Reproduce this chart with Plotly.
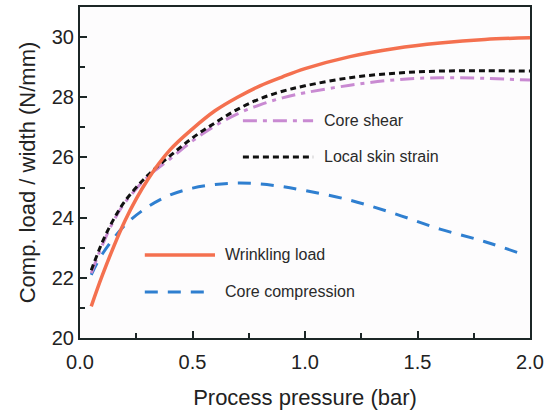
import plotly.graph_objects as go

# ---- data ----
x_wrinkling = [0.05, 0.1, 0.2, 0.3, 0.4, 0.5, 0.6, 0.7, 0.8, 0.9, 1.0, 1.2, 1.4, 1.6, 1.8, 2.0]
y_wrinkling = [21.05, 22.1, 23.9, 25.25, 26.25, 26.95, 27.55, 28.0, 28.38, 28.68, 28.95, 29.35, 29.62, 29.8, 29.92, 29.98]

x_skin = [0.05, 0.1, 0.15, 0.2, 0.3, 0.4, 0.5, 0.6, 0.7, 0.8, 0.9, 1.0, 1.2, 1.4, 1.6, 1.8, 2.0]
y_skin = [22.25, 23.2, 23.95, 24.55, 25.4, 26.05, 26.65, 27.15, 27.6, 27.95, 28.2, 28.38, 28.65, 28.8, 28.87, 28.88, 28.87]

x_shear = [0.05, 0.1, 0.15, 0.2, 0.3, 0.4, 0.5, 0.6, 0.7, 0.8, 0.9, 1.0, 1.2, 1.4, 1.6, 1.8, 2.0]
y_shear = [22.15, 23.1, 23.9, 24.5, 25.35, 25.95, 26.55, 27.05, 27.45, 27.75, 27.98, 28.15, 28.4, 28.58, 28.65, 28.63, 28.57]

x_compr = [0.05, 0.1, 0.2, 0.3, 0.4, 0.5, 0.6, 0.7, 0.8, 0.9, 1.0, 1.2, 1.4, 1.6, 1.8, 1.98]
y_compr = [22.1, 22.8, 23.75, 24.35, 24.75, 24.98, 25.1, 25.15, 25.12, 25.03, 24.9, 24.58, 24.13, 23.62, 23.2, 22.75]

x_ticks = [0.0, 0.5, 1.0, 1.5, 2.0]
y_ticks = [20, 22, 24, 26, 28, 30]

names = ["Wrinkling load", "Core compression", "Core shear", "Local skin strain"]

C_ORANGE = "#f4704f"
C_BLUE = "#2f7fd0"
C_PURPLE = "#c98ad2"
C_BLACK = "#111111"

FONT = "Liberation Sans, Arial, sans-serif"

styles = {
    "Wrinkling load": dict(color=C_ORANGE, width=3.5, dash="solid"),
    "Core compression": dict(color=C_BLUE, width=3, dash="13px,10px"),
    "Core shear": dict(color=C_PURPLE, width=3, dash="14px,6px,4px,6px"),
    "Local skin strain": dict(color=C_BLACK, width=3, dash="6px,4px"),
}

fig = go.Figure()
fig.add_trace(go.Scatter(x=x_compr, y=y_compr, mode="lines", name=names[1],
                         line=dict(shape="spline", **styles[names[1]])))
fig.add_trace(go.Scatter(x=x_shear, y=y_shear, mode="lines", name=names[2],
                         line=dict(shape="spline", **styles[names[2]])))
fig.add_trace(go.Scatter(x=x_skin, y=y_skin, mode="lines", name=names[3],
                         line=dict(shape="spline", **styles[names[3]])))
fig.add_trace(go.Scatter(x=x_wrinkling, y=y_wrinkling, mode="lines", name=names[0],
                         line=dict(shape="spline", **styles[names[0]])))

# manual legend samples (paper coordinates) + labels
legend_items = [
    ("Core shear", 0.362, 0.518, 0.656),
    ("Local skin strain", 0.362, 0.518, 0.547),
    ("Wrinkling load", 0.144, 0.300, 0.251),
    ("Core compression", 0.144, 0.282, 0.139),
]
for name, x0, x1, yy in legend_items:
    st = styles[name]
    fig.add_shape(type="line", xref="paper", yref="paper", x0=x0, x1=x1, y0=yy, y1=yy,
                  line=dict(color=st["color"], width=st["width"], dash=st["dash"]))
    tx = 0.538 if x0 > 0.3 else 0.318
    fig.add_annotation(xref="paper", yref="paper", x=tx, y=yy, text=name, showarrow=False,
                       xanchor="left", yanchor="middle", font=dict(family=FONT, size=16, color="#2a2a2a"))

axis_common = dict(
    showline=True, linecolor="#1c2626", linewidth=2, mirror=True,
    ticks="inside", ticklen=7, tickwidth=2, tickcolor="#1c2626",
    showgrid=False, zeroline=False,
    tickfont=dict(family=FONT, size=20, color="#222"),
)

fig.update_xaxes(range=[0, 2], tickvals=x_ticks, ticktext=[f"{v:.1f}" for v in x_ticks],
                 ticklabelstandoff=5,
                 minor=dict(ticks="inside", ticklen=5, tickwidth=2, tickcolor="#1c2626", dtick=0.25, showgrid=False),
                 title=dict(text="Process pressure (bar)", font=dict(family=FONT, size=22, color="#222"), standoff=20),
                 **axis_common)
fig.update_yaxes(range=[20, 31], tickvals=y_ticks, ticktext=[str(v) for v in y_ticks],
                 minor=dict(ticks="inside", ticklen=5, tickwidth=2, tickcolor="#1c2626", dtick=1, showgrid=False),
                 title=dict(text="Comp. load / width (N/mm)", font=dict(family=FONT, size=22, color="#222"), standoff=10),
                 **axis_common)

fig.update_layout(
    width=544, height=410,
    margin=dict(l=80, r=14, t=7, b=72, autoexpand=False),
    paper_bgcolor="white", plot_bgcolor="#fdfcfd",
    showlegend=False,
)

fig.write_html("out.html", config={"displayModeBar": False},
               post_script="document.body.style.margin='0';document.body.style.padding='0';document.body.style.overflow='hidden';")
